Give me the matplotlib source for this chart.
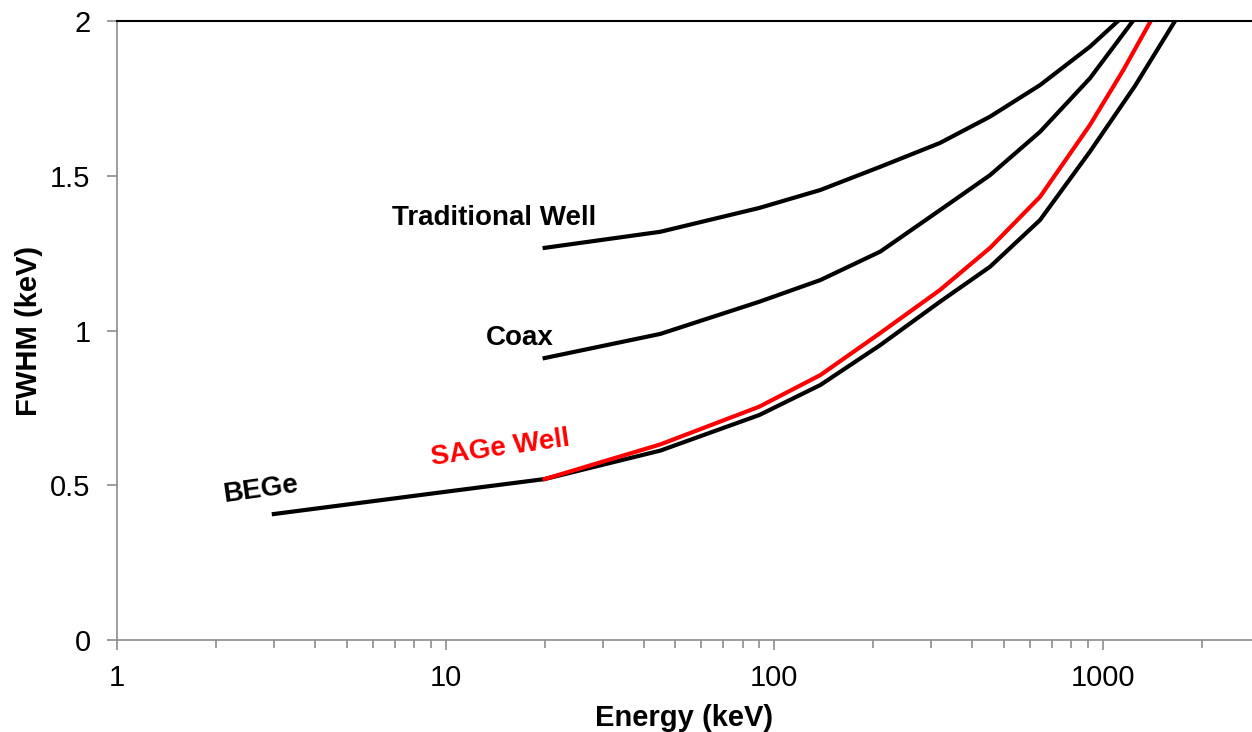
import matplotlib
matplotlib.use('Agg')
import matplotlib.pyplot as plt
from matplotlib.ticker import LogLocator, FixedLocator, NullFormatter, FuncFormatter

plt.rcParams['font.family'] = ['Liberation Sans', 'DejaVu Sans']

# energies (keV) and FWHM (keV)
bege_e = [3, 10, 20, 45, 90, 138, 210, 319, 453, 643, 912, 1250, 1655, 1750]
bege_fwhm = [0.407, 0.479, 0.52, 0.612, 0.727, 0.824, 0.953, 1.093, 1.206, 1.357, 1.578, 1.79, 2.0, 2.04]

sage_e = [20, 45, 90, 138, 210, 319, 453, 643, 912, 1150, 1396, 1500]
sage_fwhm = [0.52, 0.632, 0.754, 0.856, 0.992, 1.131, 1.267, 1.432, 1.664, 1.84, 2.0, 2.06]

coax_e = [20, 45, 90, 138, 210, 319, 453, 643, 912, 1232, 1300]
coax_fwhm = [0.911, 0.989, 1.093, 1.163, 1.255, 1.389, 1.502, 1.642, 1.815, 2.0, 2.04]

trad_e = [20, 45, 90, 138, 210, 319, 453, 643, 912, 1110, 1200]
trad_fwhm = [1.267, 1.319, 1.396, 1.454, 1.529, 1.606, 1.691, 1.793, 1.917, 2.0, 2.04]

fig = plt.figure(figsize=(12.52, 7.32), dpi=100)
ax = fig.add_axes([117 / 1252, 92 / 732, 1 - 117 / 1252, (640 - 21) / 732])

ax.plot(trad_e, trad_fwhm, color='black', lw=3)
ax.plot(coax_e, coax_fwhm, color='black', lw=3)
ax.plot(bege_e, bege_fwhm, color='black', lw=3)
ax.plot(sage_e, sage_fwhm, color='red', lw=3)

ax.set_xscale('log')
ax.set_xlim(1, 2838)
ax.set_ylim(0, 2)

ax.xaxis.set_major_locator(FixedLocator([1, 10, 100, 1000]))
ax.xaxis.set_major_formatter(FuncFormatter(lambda v, p: '%d' % v))
ax.xaxis.set_minor_locator(LogLocator(base=10, subs=range(2, 10)))
ax.xaxis.set_minor_formatter(NullFormatter())
ax.set_yticks([0, 0.5, 1, 1.5, 2])
ax.set_yticklabels(['0', '0.5', '1', '1.5', '2'])

gray = '#8c8c8c'
for side in ['left', 'bottom']:
    ax.spines[side].set_color(gray)
    ax.spines[side].set_linewidth(1.2)
ax.spines['right'].set_visible(False)
ax.spines['top'].set_color('black')
ax.spines['top'].set_linewidth(1.5)

ax.tick_params(axis='x', which='major', direction='out', length=7, width=1.2, color=gray,
               labelsize=21, pad=10)
ax.tick_params(axis='x', which='minor', direction='out', length=6, width=1.2, color=gray)
ax.tick_params(axis='y', which='major', direction='out', length=7, width=1.2, color=gray,
               labelsize=21, pad=12)

ax.set_xlabel('Energy (keV)', fontsize=21, fontweight='bold', labelpad=9)
ax.set_ylabel('FWHM (keV)', fontsize=21, fontweight='bold', labelpad=5)

ax.text(14.0, 1.363, 'Traditional Well', fontsize=20, fontweight='bold', ha='center', va='center')
ax.text(16.8, 0.976, 'Coax', fontsize=20, fontweight='bold', ha='center', va='center')
ax.text(2.74, 0.485, 'BEGe', fontsize=20, fontweight='bold', ha='center', va='center', rotation=8)
ax.text(14.7, 0.62, 'SAGe Well', fontsize=20, fontweight='bold', ha='center', va='center',
        rotation=8, color='red')

fig.savefig('out.png', dpi=100)
